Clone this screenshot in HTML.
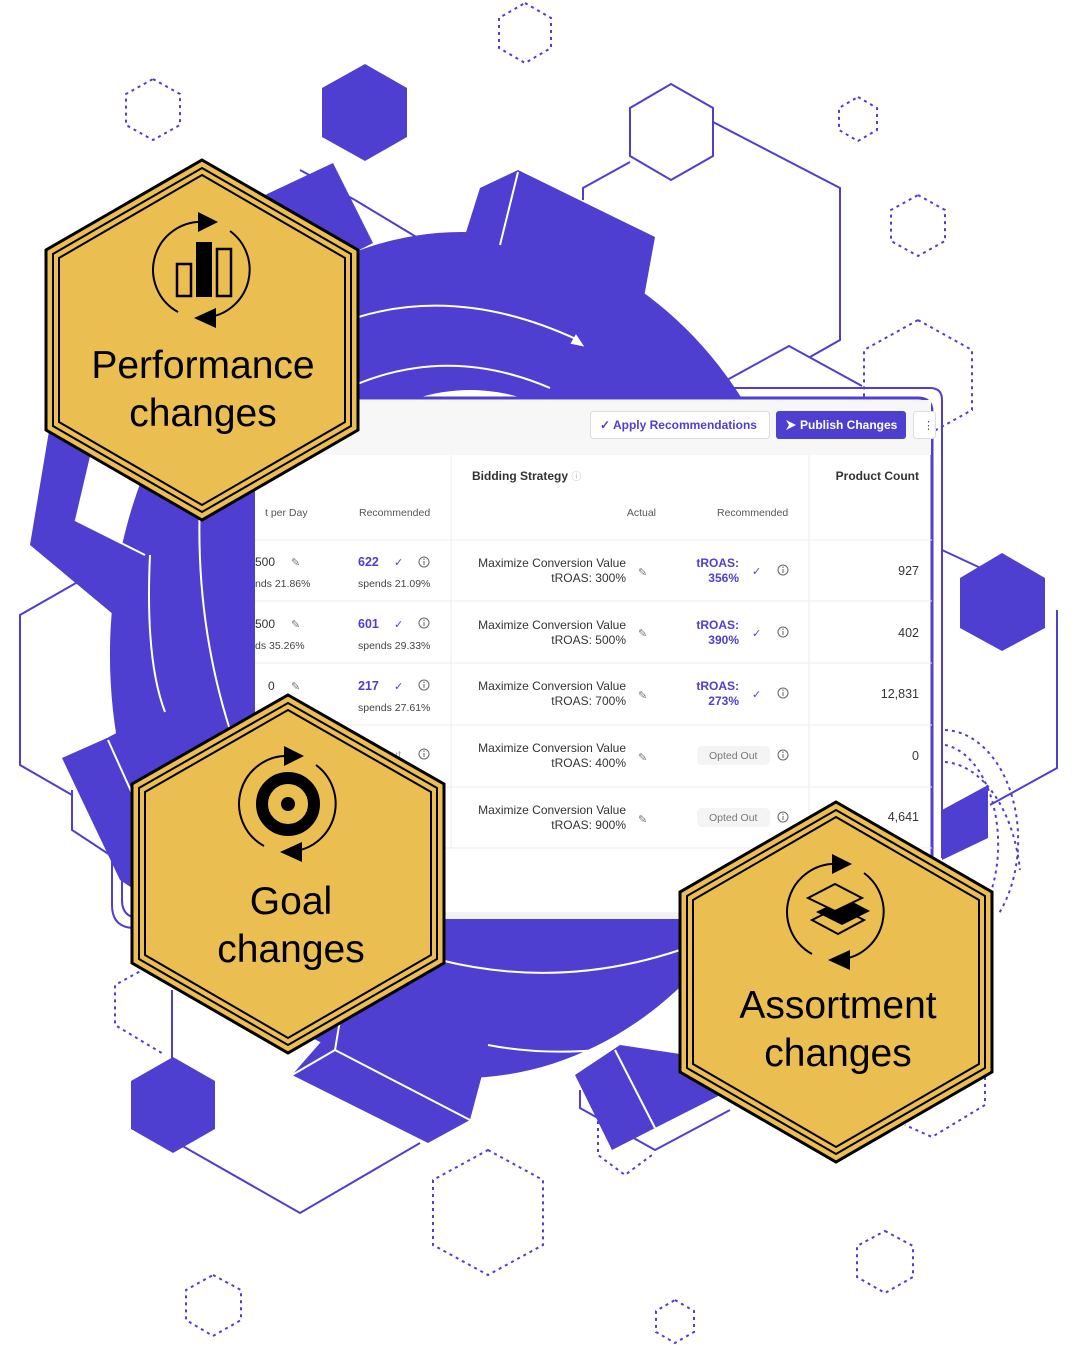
<!DOCTYPE html>
<html><head><meta charset="utf-8"><style>
html,body{margin:0;padding:0;background:#fff;}
svg{display:block}
.t{font-family:"Liberation Sans",sans-serif;}
</style></head><body>
<svg width="1078" height="1345" viewBox="0 0 1078 1345" xmlns="http://www.w3.org/2000/svg">
<defs>
<g id="arrows">
<path d="M-24,42 A48,48 0 0 1 2,-48" fill="none" stroke="#000" stroke-width="2"/>
<polygon points="-4,-58 16,-48 -4,-38" fill="#000"/>
<path d="M28,-39 A48,48 0 0 1 8,47" fill="none" stroke="#000" stroke-width="2"/>
<polygon points="14,38 -8,48 14,58" fill="#000"/>
</g>
<g id="info"><circle r="5" fill="none" stroke="#666" stroke-width="1"/><line x1="0" y1="-1" x2="0" y2="3" stroke="#666" stroke-width="1"/><circle cy="-2.8" r="0.7" fill="#666"/></g>
</defs>
<g fill="none" stroke="#4E3FD1" stroke-width="2">
<g stroke-dasharray="3,4">
<polygon points="525,3 551,18 551,48 525,63 499,48 499,18"/>
<polygon points="153,79 180,94 180,125 153,140 126,125 126,94"/>
<polygon points="858,97 877,108 877,130 858,141 839,130 839,108"/>
<polygon points="918,195 945,210 945,241 918,256 891,241 891,210"/>
<polygon points="918,320 972,350 972,410 918,440 864,410 864,350"/>
<polygon points="488,1150 543,1180 543,1245 488,1275 433,1245 433,1180"/>
<polygon points="885,1231 913,1246 913,1277 885,1293 857,1277 857,1246"/>
<polygon points="213,1275 241,1290 241,1320 213,1336 186,1320 186,1290"/>
<polygon points="675,1300 694,1311 694,1332 675,1343 656,1332 656,1311"/>
<polyline points="170,955 115,985 115,1025 165,1055"/>
<polyline points="598,1100 598,1155 625,1175 652,1155"/>
<polyline points="985,1070 985,1105 932,1137 905,1125"/>
<path d="M945,730 A75,110 0 0 1 998,915"/>
<path d="M945,745 A60,100 0 0 1 988,900"/>
<path d="M945,762 A80,130 0 0 1 1020,870"/>
</g>
<polygon points="671,84 713,108 713,156 671,180 630,156 630,108"/>
<polyline points="713,122 840,188 840,340 810,357"/>
<polyline points="630,162 583,188 583,200"/>
<polyline points="716,386 789,346 862,386"/>
<polyline points="300,170 355,200"/>
<polyline points="355,200 418,238"/>
<polyline points="90,575 20,615 20,765 72,795"/>
<polyline points="1057,610 1057,768 990,805"/>
<polyline points="942,550 1000,577"/>
<polyline points="172,990 172,1140 300,1213 420,1143"/>
<polyline points="580,1090 580,1108 655,1150 730,1110"/>
<polyline points="72,790 72,830 110,855"/>
<path d="M112,820 L112,905 Q112,928 135,928"/>
<path d="M122,830 L122,900 Q122,918 140,918"/>
</g>
<g fill="#4E3FD1">
<polygon points="365,64 407,88 407,137 365,161 322,137 322,88"/>
<polygon points="1002,553 1045,578 1045,628 1002,651 960,628 960,578"/>
<polygon points="173,1057 215,1081 215,1129 173,1153 131,1129 131,1081"/>
<path fill-rule="evenodd" d="M462,232 A352,423 0 1 1 461.9,232 Z M470,390 A215,265 0 1 0 470.1,390 Z"/>
<polygon points="265,195 333,163 373,243 300,280"/>
<polygon points="462,245 480,188 518,170 655,237 638,330 560,300"/>
<polygon points="30,545 50,425 95,435 75,520 145,555 120,620"/>
<polygon points="62,758 107,738 160,710 150,900 120,880"/>
<polygon points="292,1075 340,1020 490,1045 470,1120 428,1143"/>
<polygon points="575,1075 620,1045 720,1060 730,1090 655,1128 612,1150"/>
<polygon points="942,810 988,785 988,838 942,860"/>
</g>
<g fill="none" stroke="#fff" stroke-width="2">
<path d="M355,318 Q460,285 578,340"/>
<polygon points="572,343 582,345 576,336" fill="#fff"/>
<path d="M355,385 Q450,345 550,388"/>
<path d="M150,555 Q145,660 165,712"/>
<path d="M200,500 Q195,620 230,730"/>
<path d="M440,960 Q560,990 680,950"/>
<path d="M488,1045 Q540,1055 598,1050"/>
<path d="M500,245 L518,172"/>
<path d="M75,520 L145,555"/>
<path d="M108,740 L135,800"/>
<path d="M335,1050 L470,1120"/>
<path d="M615,1050 L655,1128"/>
<path d="M340,1020 L335,1050 L292,1075"/>
</g>
<path d="M930,388 L716,388" fill="none" stroke="#4E3FD1" stroke-width="2"/>
<path d="M930,388 Q942,388 942,400 L942,858" fill="none" stroke="#4E3FD1" stroke-width="2"/>
<rect x="255" y="398" width="677" height="522" fill="#fff"/>
<path d="M255,398 L918,398 Q932,398 932,412 L932,920 L255,920" fill="none" stroke="#4E3FD1" stroke-width="3"/>
<rect x="256" y="400" width="675" height="55" fill="#f7f7f8"/>
<rect x="256" y="912" width="675" height="7" fill="#f2f2f4"/>
<rect x="590.5" y="411.5" width="179" height="27" rx="3" fill="#fff" stroke="#ddd"/>
<text x="600" y="429" class="t" font-size="12" font-weight="bold" fill="#4E3FD1">✓ Apply Recommendations</text>
<rect x="776" y="411" width="130" height="28" rx="3" fill="#4E3FD1"/>
<polygon points="786,420 796,425 786,430 789,425" fill="#fff"/>
<text x="800" y="429" class="t" font-size="12" font-weight="bold" fill="#fff">Publish Changes</text>
<rect x="913.5" y="411.5" width="22" height="27" rx="3" fill="#fff" stroke="#ddd"/>
<text x="923" y="429" class="t" font-size="11" fill="#555">⋮</text>
<g stroke="#eee" stroke-width="1">
<line x1="451" y1="455" x2="451" y2="848"/><line x1="809" y1="455" x2="809" y2="848"/>
<line x1="255" y1="540" x2="932" y2="540"/><line x1="255" y1="601" x2="932" y2="601"/>
<line x1="255" y1="663" x2="932" y2="663"/><line x1="255" y1="725" x2="932" y2="725"/>
<line x1="255" y1="787" x2="932" y2="787"/><line x1="255" y1="848" x2="932" y2="848"/>
</g>
<g class="t" fill="#333">
<text x="472" y="480" font-size="12" font-weight="bold">Bidding Strategy <tspan fill="#bbb" font-weight="normal" font-size="10">ⓘ</tspan></text>
<text x="919" y="480" font-size="12" font-weight="bold" text-anchor="end">Product Count</text>
<g font-size="10.5" fill="#555">
<text x="265" y="516">t per Day</text><text x="359" y="516">Recommended</text>
<text x="656" y="516" text-anchor="end">Actual</text><text x="717" y="516">Recommended</text>
</g>
<g font-size="12">
<text x="255" y="566">500</text><text x="255" y="628">500</text><text x="268" y="690">0</text>
<text x="382" y="759" fill="#aaa">Out</text>
</g>
<g font-size="10.5" fill="#444">
<text x="255" y="587">nds 21.86%</text><text x="358" y="587">spends 21.09%</text>
<text x="255" y="649">ds 35.26%</text><text x="358" y="649">spends 29.33%</text>
<text x="358" y="711">spends 27.61%</text>
</g>
<g font-size="12.5" font-weight="bold" fill="#4E3FD1">
<text x="358" y="566">622</text><text x="358" y="628">601</text><text x="358" y="690">217</text>
</g>
<g font-size="11" fill="#4E3FD1">
<text x="394" y="566">✓</text><text x="394" y="628">✓</text><text x="394" y="690">✓</text>
<text x="752" y="575">✓</text><text x="752" y="637">✓</text><text x="752" y="698">✓</text>
</g>
<g font-size="11" fill="#777">
<text x="291" y="566">✎</text><text x="291" y="628">✎</text><text x="291" y="690">✎</text>
<text x="638" y="576">✎</text><text x="638" y="637">✎</text><text x="638" y="699">✎</text><text x="638" y="761">✎</text><text x="638" y="823">✎</text>
</g>
<use href="#info" x="424" y="562"/><use href="#info" x="424" y="623"/><use href="#info" x="424" y="685"/><use href="#info" x="424" y="754"/>
<use href="#info" x="783" y="570"/><use href="#info" x="783" y="632"/><use href="#info" x="783" y="693"/><use href="#info" x="783" y="755"/><use href="#info" x="783" y="817"/>
<g font-size="12" text-anchor="end" fill="#333">
<text x="626" y="567">Maximize Conversion Value</text><text x="626" y="582">tROAS: 300%</text>
<text x="626" y="629">Maximize Conversion Value</text><text x="626" y="644">tROAS: 500%</text>
<text x="626" y="690">Maximize Conversion Value</text><text x="626" y="705">tROAS: 700%</text>
<text x="626" y="752">Maximize Conversion Value</text><text x="626" y="767">tROAS: 400%</text>
<text x="626" y="814">Maximize Conversion Value</text><text x="626" y="829">tROAS: 900%</text>
</g>
<g font-size="12" font-weight="bold" fill="#4E3FD1" text-anchor="end">
<text x="739" y="567">tROAS:</text><text x="739" y="582">356%</text>
<text x="739" y="629">tROAS:</text><text x="739" y="644">390%</text>
<text x="739" y="690">tROAS:</text><text x="739" y="705">273%</text>
</g>
<rect x="697" y="746" width="73" height="19" rx="5" fill="#f4f4f5"/>
<rect x="697" y="808" width="73" height="19" rx="5" fill="#f4f4f5"/>
<g font-size="10.5" fill="#777"><text x="709" y="759">Opted Out</text><text x="709" y="821">Opted Out</text></g>
<g font-size="12.5" text-anchor="end">
<text x="919" y="575">927</text><text x="919" y="637">402</text><text x="919" y="698">12,831</text><text x="919" y="760">0</text><text x="919" y="821">4,641</text>
</g>
</g>
<g stroke="#000" fill="#EBBE52">
<polygon stroke-width="3" points="202,160 358,250 358,430 202,520 46,430 46,250"/>
<polygon fill="none" stroke-width="2" points="202,168 351,254 351,426 202,512 53,426 53,254"/>
<polygon fill="none" stroke-width="2" points="202,175 345,258 345,422 202,505 59,422 59,258"/>
<polygon stroke-width="3" points="288,695 444,784 444,963 288,1053 132,963 132,784"/>
<polygon fill="none" stroke-width="2" points="288,703 437,788 437,959 288,1045 139,959 139,788"/>
<polygon fill="none" stroke-width="2" points="288,710 431,792 431,955 288,1038 145,955 145,792"/>
<polygon stroke-width="3" points="836,802 992,892 992,1072 836,1162 680,1072 680,892"/>
<polygon fill="none" stroke-width="2" points="836,810 985,896 985,1068 836,1154 687,1068 687,896"/>
<polygon fill="none" stroke-width="2" points="836,817 979,900 979,1064 836,1147 693,1064 693,900"/>
</g>
<use href="#arrows" transform="translate(202,270)"/>
<rect x="177" y="264" width="14" height="32" fill="none" stroke="#000" stroke-width="2.5"/>
<rect x="196" y="242" width="16" height="55" fill="#000"/>
<rect x="217" y="249" width="14" height="47" fill="none" stroke="#000" stroke-width="2.5"/>
<use href="#arrows" transform="translate(288,804)"/>
<circle cx="288" cy="804" r="26" fill="none" stroke="#000" stroke-width="12"/>
<circle cx="288" cy="804" r="7" fill="#000"/>
<use href="#arrows" transform="translate(836,912)"/>
<polygon points="812,920 838,907 864,920 838,934" fill="none" stroke="#000" stroke-width="2"/>
<polygon points="816,912 845,898 870,911 842,925" fill="#000"/>
<polygon points="808,898 835,884 862,898 835,911" fill="#EBBE52" stroke="#000" stroke-width="2"/>
<g class="t" font-size="39" fill="#000" text-anchor="middle">
<text x="203" y="378">Performance</text><text x="203" y="426">changes</text>
<text x="291" y="914">Goal</text><text x="291" y="962">changes</text>
<text x="838" y="1018">Assortment</text><text x="838" y="1066">changes</text>
</g>
</svg>
</body></html>
